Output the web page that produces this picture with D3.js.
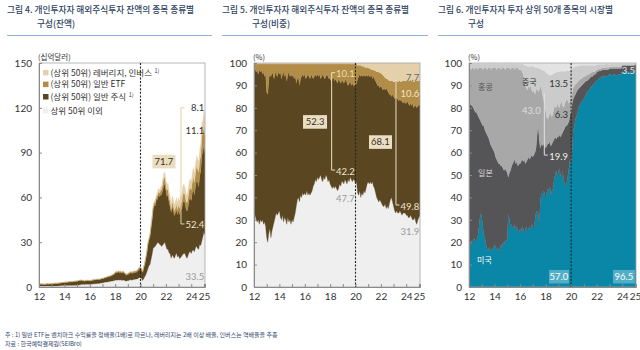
<!DOCTYPE html>
<html>
<head>
<meta charset="utf-8">
<script src="https://cdn.jsdelivr.net/npm/d3@7"></script>
<style>
  body { margin: 0; background: #fff; }
  svg { display: block; font-family: Lato, "Noto Sans CJK KR", sans-serif; }
  .kr { font-family: "Noto Sans CJK KR", "Noto Sans", sans-serif; }
</style>
</head>
<body>
<svg id="chart" width="640" height="350"></svg>
<script>
// monthly observations, Jan 2012 .. Feb 2025
const startYear = 2012;

// Fig 4: balance, USD bn
const others1 = [
  0.7, 0.6, 0.6, 0.6, 0.6, 0.5, 0.6, 0.6, 0.7, 0.6, 0.6, 0.6,
  0.5, 0.5, 0.6, 0.7, 0.6, 0.6, 0.7, 0.8, 0.9, 1.0, 1.0, 1.0,
  1.1, 1.0, 1.0, 1.1, 1.0, 1.1, 1.1, 1.0, 1.1, 1.1, 1.2, 1.1,
  1.2, 1.2, 1.4, 1.5, 1.7, 1.8, 1.8, 1.6, 1.8, 1.8, 1.9, 1.8,
  1.8, 1.8, 2.0, 2.0, 2.1, 2.1, 2.2, 2.3, 2.4, 2.4, 2.6, 2.7,
  2.9, 2.9, 3.1, 3.3, 3.3, 3.3, 3.6, 3.6, 3.9, 4.0, 4.0, 4.3,
  4.6, 4.7, 4.5, 4.9, 4.6, 4.8, 4.5, 4.5, 4.7, 4.4, 4.1, 4.0,
  4.3, 4.4, 4.8, 4.9, 4.6, 5.0, 5.1, 5.2, 5.3, 5.4, 5.9, 6.4,
  6.0, 5.9, 4.4, 5.5, 6.9, 8.0, 10.1, 12.3, 14.2, 15.1, 18.5, 22.0,
  25.9, 26.7, 27.3, 28.5, 29.6, 29.7, 28.6, 28.1, 27.2, 28.1, 28.9, 30.0,
  27.4, 25.2, 25.2, 23.0, 22.2, 19.3, 21.6, 20.3, 19.2, 21.1, 22.8, 20.1,
  20.9, 19.0, 19.8, 20.7, 21.8, 22.4, 22.4, 20.5, 19.2, 21.1, 23.1, 23.8,
  22.4, 24.3, 24.8, 23.6, 26.2, 27.3, 25.8, 25.2, 28.5, 27.8, 30.8, 33.6,
  36.6, 35.1
];
const stock1 = [
  1.1, 1.3, 1.4, 1.35, 1.25, 1.3, 1.3, 1.4, 1.4, 1.4, 1.4, 1.55,
  1.5, 1.6, 1.7, 1.7, 1.85, 1.8, 1.75, 1.7, 1.8, 1.8, 1.85, 1.95,
  1.95, 2.1, 2.1, 2.15, 2.35, 2.25, 2.4, 2.3, 2.35, 2.55, 2.5, 2.7,
  2.6, 2.85, 2.75, 2.85, 2.6, 2.45, 2.4, 2.2, 2.25, 2.45, 2.45, 2.4,
  2.35, 2.35, 2.4, 2.6, 2.55, 2.6, 2.75, 2.7, 2.6, 2.55, 2.6, 2.7,
  2.7, 2.8, 2.9, 2.8, 3.15, 3.35, 3.3, 3.4, 3.45, 3.75, 4.05, 4.05,
  4.7, 4.95, 5.05, 5.3, 5.0, 5.1, 4.9, 5.0, 5.2, 4.35, 4.25, 3.85,
  4.15, 4.3, 4.4, 4.85, 4.5, 4.35, 4.75, 4.55, 4.6, 5.05, 5.15, 5.7,
  5.7, 5.5, 5.35, 7.15, 8.3, 10.8, 12.7, 15.9, 17.2, 18.7, 21.4, 23.0,
  26.4, 27.8, 27.3, 30.4, 29.0, 32.3, 31.9, 33.5, 34.7, 36.7, 39.5, 38.5,
  37.4, 35.4, 36.4, 33.9, 31.6, 30.7, 32.2, 31.2, 28.5, 28.4, 28.7, 28.4,
  30.4, 29.5, 32.2, 31.5, 34.7, 35.0, 34.0, 32.0, 31.6, 32.4, 35.5, 35.8,
  35.5, 38.8, 40.8, 38.0, 41.0, 44.0, 44.7, 42.0, 46.0, 49.9, 57.2, 57.1,
  59.0, 54.8
];
const etf1 = [
  0.05, 0.03, 0.07, 0.05, 0.09, 0.05, 0.07, 0.05, 0.1, 0.07, 0.12, 0.1,
  0.29, 0.32, 0.16, 0.11, 0.14, 0.09, 0.12, 0.18, 0.1, 0.13, 0.17, 0.11,
  0.14, 0.11, 0.21, 0.15, 0.12, 0.2, 0.17, 0.27, 0.17, 0.13, 0.21, 0.18,
  0.23, 0.19, 0.29, 0.21, 0.4, 0.29, 0.24, 0.4, 0.28, 0.25, 0.21, 0.25,
  0.2, 0.29, 0.26, 0.22, 0.27, 0.33, 0.23, 0.29, 0.35, 0.29, 0.25, 0.31,
  0.27, 0.34, 0.28, 0.42, 0.37, 0.32, 0.4, 0.49, 0.43, 0.37, 0.47, 0.59,
  0.65, 0.79, 0.67, 0.59, 0.78, 0.69, 0.77, 0.88, 0.69, 0.71, 0.78, 0.65,
  0.69, 0.82, 0.75, 0.68, 0.85, 0.99, 0.92, 0.8, 1.05, 0.98, 1.17, 1.3,
  1.2, 1.1, 0.6, 0.7, 0.6, 1.0, 0.8, 1.35, 1.15, 1.45, 1.25, 1.9,
  1.65, 2.0, 2.0, 1.25, 2.5, 2.0, 2.3, 3.0, 3.4, 4.3, 4.6, 5.0,
  4.0, 4.1, 4.55, 3.2, 3.3, 2.2, 3.0, 3.2, 3.1, 3.25, 4.0, 3.2,
  3.8, 4.2, 4.2, 4.9, 4.95, 6.1, 5.3, 5.3, 5.4, 6.4, 6.3, 7.2,
  7.0, 7.2, 8.0, 8.4, 8.6, 9.7, 8.6, 9.7, 10.1, 10.6, 13.2, 12.3,
  13.0, 11.7
];
const lev1 = [
  0.01, 0.01, 0.01, 0.01, 0.01, 0.01, 0.01, 0.01, 0.01, 0.01, 0.01, 0.01,
  0.01, 0.01, 0.01, 0.01, 0.01, 0.01, 0.01, 0.01, 0.01, 0.01, 0.01, 0.01,
  0.02, 0.02, 0.02, 0.02, 0.02, 0.02, 0.02, 0.02, 0.02, 0.02, 0.02, 0.02,
  0.02, 0.02, 0.02, 0.02, 0.02, 0.02, 0.02, 0.02, 0.02, 0.02, 0.02, 0.02,
  0.03, 0.03, 0.03, 0.03, 0.03, 0.03, 0.03, 0.03, 0.03, 0.03, 0.03, 0.03,
  0.03, 0.03, 0.03, 0.03, 0.03, 0.03, 0.03, 0.03, 0.03, 0.03, 0.03, 0.03,
  0.05, 0.05, 0.05, 0.05, 0.05, 0.05, 0.05, 0.05, 0.05, 0.05, 0.05, 0.05,
  0.06, 0.06, 0.06, 0.06, 0.06, 0.06, 0.06, 0.06, 0.06, 0.06, 0.06, 0.06,
  0.07, 0.06, 0.1, 0.14, 0.16, 0.2, 0.36, 0.45, 0.5, 0.72, 0.84, 0.96,
  1.1, 1.45, 1.45, 1.86, 1.9, 2.0, 2.3, 2.35, 2.7, 2.9, 3.0, 3.5,
  3.2, 3.4, 3.85, 3.85, 3.9, 3.85, 4.2, 4.35, 4.15, 4.3, 4.55, 4.25,
  4.9, 4.75, 4.8, 4.9, 5.6, 5.45, 5.3, 5.3, 4.8, 5.1, 5.6, 5.75,
  5.6, 5.7, 6.4, 6.1, 6.15, 7.0, 6.9, 7.1, 7.35, 7.7, 8.8, 9.0,
  9.4, 8.5
];

// Fig 5: share, %
const others2 = [
  38, 32, 30, 29, 30, 28, 30, 29, 30, 28, 29, 27,
  22, 20, 24, 26, 22, 25, 27, 29, 31, 33, 32, 33,
  34, 31, 30, 32, 29, 31, 30, 28, 31, 29, 30, 28,
  30, 29, 31, 33, 36, 39, 40, 38, 41, 40, 42, 41,
  42, 41, 43, 41, 42, 41, 42, 43, 45, 46, 48, 47,
  49, 48, 49, 50, 48, 47, 49, 48, 50, 49, 47, 48,
  46, 45, 44, 45, 44, 45, 44, 43, 44, 46, 45, 47,
  47, 46, 48, 47, 46, 48, 47, 49, 48, 47, 48, 47.7,
  46, 47, 42, 41, 43, 40, 42, 41, 43, 42, 44, 46,
  47, 46, 47, 46, 47, 45, 44, 42, 40, 39, 38, 39,
  38, 37, 36, 36, 37, 35, 36, 35, 37, 39, 40, 38,
  36, 34, 33, 34, 33, 33, 34, 33, 32, 33, 33, 33,
  32, 32, 31, 31, 32, 31, 30, 30, 31, 29, 28, 30,
  31, 31.9
];
const stock2 = [
  59, 66, 66, 68, 65, 69, 66, 68, 65, 68, 65, 68,
  65, 66, 69, 69, 72, 71, 68, 64, 65, 62, 62, 63,
  61, 65, 63, 63, 67, 63, 65, 64, 64, 67, 64, 67,
  64, 66, 62, 62, 55, 54, 54, 52, 52, 54, 53, 53,
  53, 52, 51, 54, 52, 52, 53, 51, 48, 48, 47, 47,
  46, 46, 46, 43, 46, 48, 45, 45, 44, 46, 47, 45,
  47, 47, 49, 49, 48, 48, 48, 48, 49, 46, 46, 45,
  45, 45, 44, 46, 45, 42, 44, 43, 42, 44, 42, 42.2,
  44, 44, 51, 53, 52, 54, 53, 53, 52, 52, 51, 48,
  48, 48, 47, 49, 46, 49, 49, 50, 51, 51, 52, 50,
  52, 52, 52, 53, 51, 54, 52, 52, 49, 47, 45, 48,
  49, 50, 52, 50, 51, 50, 50, 50, 51, 49, 50, 49,
  50, 51, 51, 50, 50, 50, 52, 50, 50, 52, 52, 51,
  50, 49.8
];
const etf2 = [
  2.5, 1.5, 3.5, 2.5, 4.5, 2.5, 3.5, 2.5, 4.5, 3.5, 5.5, 4.5,
  12.5, 13.5, 6.5, 4.5, 5.5, 3.5, 4.5, 6.5, 3.5, 4.5, 5.5, 3.5,
  4.5, 3.5, 6.5, 4.5, 3.5, 5.5, 4.5, 7.5, 4.5, 3.5, 5.5, 4.5,
  5.5, 4.5, 6.5, 4.5, 8.5, 6.5, 5.5, 9.5, 6.5, 5.5, 4.5, 5.5,
  4.5, 6.5, 5.5, 4.5, 5.5, 6.5, 4.5, 5.5, 6.5, 5.5, 4.5, 5.5,
  4.5, 5.5, 4.5, 6.5, 5.5, 4.5, 5.5, 6.5, 5.5, 4.5, 5.5, 6.5,
  6.5, 7.5, 6.5, 5.5, 7.5, 6.5, 7.5, 8.5, 6.5, 7.5, 8.5, 7.5,
  7.5, 8.5, 7.5, 6.5, 8.5, 9.5, 8.5, 7.5, 9.5, 8.5, 9.5, 9.6,
  9.5, 8.5, 6, 5, 4, 5, 3.5, 4.5, 3.5, 4, 3, 4,
  3, 3.5, 3.5, 2, 4, 3, 3.5, 4.5, 5, 6, 6, 6.5,
  5.5, 6, 6.5, 5, 5.5, 4, 5, 5.5, 6, 6, 7, 6,
  6.5, 7.5, 7, 8, 7.5, 9, 8, 8.5, 9, 10, 9, 10,
  10, 9.5, 10, 11, 10.5, 11, 10, 11.5, 11, 11, 12, 11,
  11, 10.6
];
const lev2 = [
  0.5, 0.5, 0.5, 0.5, 0.5, 0.5, 0.5, 0.5, 0.5, 0.5, 0.5, 0.5,
  0.5, 0.5, 0.5, 0.5, 0.5, 0.5, 0.5, 0.5, 0.5, 0.5, 0.5, 0.5,
  0.5, 0.5, 0.5, 0.5, 0.5, 0.5, 0.5, 0.5, 0.5, 0.5, 0.5, 0.5,
  0.5, 0.5, 0.5, 0.5, 0.5, 0.5, 0.5, 0.5, 0.5, 0.5, 0.5, 0.5,
  0.5, 0.5, 0.5, 0.5, 0.5, 0.5, 0.5, 0.5, 0.5, 0.5, 0.5, 0.5,
  0.5, 0.5, 0.5, 0.5, 0.5, 0.5, 0.5, 0.5, 0.5, 0.5, 0.5, 0.5,
  0.5, 0.5, 0.5, 0.5, 0.5, 0.5, 0.5, 0.5, 0.5, 0.5, 0.5, 0.5,
  0.5, 0.5, 0.5, 0.5, 0.5, 0.5, 0.5, 0.5, 0.5, 0.5, 0.5, 0.5,
  0.5, 0.5, 1, 1, 1, 1, 1.5, 1.5, 1.5, 2, 2, 2,
  2, 2.5, 2.5, 3, 3, 3, 3.5, 3.5, 4, 4, 4, 4.5,
  4.5, 5, 5.5, 6, 6.5, 7, 7, 7.5, 8, 8, 8, 8,
  8.5, 8.5, 8, 8, 8.5, 8, 8, 8.5, 8, 8, 8, 8,
  8, 7.5, 8, 8, 7.5, 8, 8, 8.5, 8, 8, 8, 8,
  8, 7.7
];

// Fig 6: top-50 holdings by market, %
const us3 = [
  30, 17, 21, 20, 21, 22, 20, 21, 22, 25, 30, 33,
  31, 27, 23, 22, 19, 17, 16, 18, 17, 16, 17, 18,
  19, 18, 17, 18, 16, 17, 19, 18, 20, 19, 21, 20,
  22, 33, 30, 27, 28, 26, 27, 28, 26, 27, 25, 24,
  26, 25, 27, 26, 24, 26, 27, 25, 26, 27, 26, 28,
  27, 26, 30, 33, 34, 33, 28, 38, 42, 41, 43, 42,
  40, 42, 44, 43, 45, 41, 43, 44, 48, 50, 52, 49,
  51, 53, 50, 49, 52, 48, 46, 45, 47, 50, 53, 57,
  55, 61, 70, 72, 75, 76, 78, 80, 81, 82, 83, 83.5,
  84, 85, 86, 87, 87.5, 88, 89, 89.5, 90, 90.5, 91, 91.5,
  92, 92, 92.5, 93, 93, 93.5, 93.5, 94, 94, 94, 94, 94.5,
  94.5, 94.5, 94.5, 94.5, 95, 95, 95, 95, 95, 95.5, 95.5, 95.5,
  95.5, 95.5, 95.5, 96, 96, 96, 96, 96, 96.5, 96.5, 96.5, 96.5,
  96.5, 96.5
];
const jp3 = [
  53.5, 65, 60, 61, 59, 57, 58, 57, 55, 51, 45, 41,
  42, 45, 49, 48, 50, 51, 51, 48, 47, 47, 45, 43,
  41, 40, 40, 38, 39, 38, 35, 36, 33, 33, 32, 32,
  29, 16, 21, 25, 26, 29, 29, 29, 29, 29, 29, 31,
  29, 31, 30, 30, 33, 29, 29, 32, 32, 30, 32, 31,
  31, 33, 30, 29, 34, 40, 38, 24, 22, 22, 21, 21,
  22, 21, 20, 21, 20, 22, 21, 21, 18, 17, 14, 18,
  16, 15, 17, 19, 17, 22, 25, 27, 25, 23, 21, 19.9,
  23, 21, 14, 13, 11, 11, 10, 8.5, 8, 7.5, 7, 7,
  7, 6.5, 6, 5, 5, 5, 4.5, 4.5, 4, 4, 4, 3.5,
  3.5, 3.5, 3.5, 3, 3, 3, 3, 2.5, 3, 3, 3, 2.5,
  2.5, 2.5, 3, 3, 2.5, 2.5, 3, 3, 3, 2.5, 2.5, 2.5,
  2.5, 3, 3, 2.5, 2.5, 2.5, 3, 3, 2.5, 2.7, 2.7, 2.8,
  2.6, 2.6
];
const hk3 = [
  14.5, 16, 16, 17, 18, 18, 20, 20, 20, 22, 23, 24,
  25, 25, 26, 28, 29, 29, 31, 32, 34, 34, 36, 37,
  38, 40, 40, 42, 43, 43, 43, 44, 45, 46, 44, 46,
  47, 49, 47, 45, 44, 43, 42, 40, 43, 42, 44, 42,
  42, 41, 39, 39, 36, 35, 33, 31, 32, 32, 32, 29,
  29, 29, 26, 26, 21, 14, 22, 28, 25, 23, 20, 19,
  17, 13, 11, 12, 13, 14, 12, 13, 14, 14, 14, 15,
  14, 12, 15, 15, 12, 10, 11, 11, 12, 10, 8, 6.3,
  6, 5, 5, 5, 4.5, 4, 3.5, 3.5, 3.5, 3.5, 3, 3,
  3, 2.5, 2.5, 2.5, 2.5, 2, 2, 1.5, 2, 1.5, 1, 1.5,
  1, 1, 1, 1, 1, 1, 1, 1, 1, 1, 1, 1,
  0.8, 0.8, 0.8, 0.8, 0.8, 0.8, 0.8, 0.8, 0.8, 0.8, 0.8, 0.8,
  0.4, 0.4, 0.4, 0.4, 0.4, 0.4, 0.4, 0.4, 0.4, 0.4, 0.4, 0.4,
  0.3, 0.3
];
const cn3 = [
  1.5, 1.5, 2.5, 1.5, 1.5, 2.5, 1.5, 1.5, 2.5, 1.5, 1.5, 1.5,
  1.5, 2.5, 1.5, 1.5, 1.5, 2.5, 1.5, 1.5, 1.5, 2.5, 1.5, 1.5,
  1.5, 1.5, 2.5, 1.5, 1.5, 1.5, 2.5, 1.5, 1.5, 1.5, 2.5, 1.5,
  1.5, 1.5, 1.5, 2.5, 1.5, 1.5, 1.5, 2.5, 1.5, 1.5, 1.5, 2.5,
  2.5, 2.5, 3.5, 4.5, 6, 9, 10, 10.5, 8.5, 9.5, 8.5, 10.5,
  11.5, 10.5, 12, 10, 9, 11, 9.5, 7.5, 8, 11, 12.5, 14.5,
  17, 19.5, 20, 19, 16.5, 17.5, 19, 17, 15.5, 14.5, 16, 14,
  15, 16, 14.5, 13, 15.5, 16.5, 14, 13.5, 12.5, 13.5, 14.5, 13.5,
  13, 10.5, 9, 8, 8, 7.5, 7, 6.5, 6.5, 6, 6, 5.5,
  5, 5, 4.5, 4.5, 4, 4, 3.5, 3.5, 3, 3, 3, 2.5,
  2.5, 2.5, 2, 2, 2, 1.5, 1.5, 1.5, 1.5, 1.5, 1.5, 1.5,
  1.2, 1.2, 1.2, 1.2, 1.2, 1.2, 1.2, 1.2, 1.2, 1.2, 1.2, 1.2,
  0.5, 0.5, 0.5, 0.5, 0.5, 0.5, 0.5, 0.5, 0.5, 0.5, 0.5, 0.5,
  0.4, 0.4
];
const rest3 = [
  0.5, 0.5, 0.5, 0.5, 0.5, 0.5, 0.5, 0.5, 0.5, 0.5, 0.5, 0.5,
  0.5, 0.5, 0.5, 0.5, 0.5, 0.5, 0.5, 0.5, 0.5, 0.5, 0.5, 0.5,
  0.5, 0.5, 0.5, 0.5, 0.5, 0.5, 0.5, 0.5, 0.5, 0.5, 0.5, 0.5,
  0.5, 0.5, 0.5, 0.5, 0.5, 0.5, 0.5, 0.5, 0.5, 0.5, 0.5, 0.5,
  0.5, 0.5, 0.5, 0.5, 1, 1, 1, 1.5, 1.5, 1.5, 1.5, 1.5,
  1.5, 1.5, 2, 2, 2, 2, 2.5, 2.5, 3, 3, 3.5, 3.5,
  4, 4.5, 5, 5, 5.5, 5.5, 5, 5, 4.5, 4.5, 4, 4,
  4, 4, 3.5, 4, 3.5, 3.5, 4, 3.5, 3.5, 3.5, 3.5, 3.3,
  3, 2.5, 2, 2, 1.5, 1.5, 1.5, 1.5, 1, 1, 1, 1,
  1, 1, 1, 1, 1, 1, 1, 1, 1, 1, 1, 1,
  0.5, 0.5, 0.5, 0.5, 0.5, 0.5, 0.5, 0.5, 0.5, 0.5, 0.5, 0.5,
  0.5, 0.5, 0.5, 0.5, 0.5, 0.5, 0.5, 0.5, 0.5, 0.5, 0.5, 0.5,
  0.3, 0.3, 0.3, 0.3, 0.3, 0.3, 0.3, 0.3, 0.3, 0.3, 0.3, 0.3,
  0.2, 0.2
];

const yearTicks = d3.range(2012, 2026);
const yearLabels = { 2012: "12", 2014: "14", 2016: "16", 2018: "18", 2020: "20", 2022: "22", 2024: "24", 2025: "25" };
const yTicksBal = [0, 30, 60, 90, 120, 150];
const yTicksPct = [0, 10, 20, 30, 40, 50, 60, 70, 80, 90, 100];

const legendItems = ["(상위 50위) 레버리지, 인버스", "(상위 50위) 일반 ETF", "(상위 50위) 일반 주식", "상위 50위 이외"];
const legendNote = [true, false, true, false];

const brown = { others: "#efefef", stock: "#5b4622", etf: "#b28d47", lev: "#e4d1ab" };
const marketColors = ["#0a86a6", "#555557", "#a8a8a8", "#cbcbcb", "#e3e3e3"];

const dates = others1.map((_, i) => startYear + i / 12);
const plotTop = 63, plotBottom = 287;
const svg = d3.select("#chart");

const panels = [
  {
    x0: 39, x1: 205, titleX: 7, rule: [7, 212],
    title: ["그림 4. 개인투자자 해외주식투자 잔액의 종목 종류별", "구성(잔액)"],
    unit: "(십억달러)", yMax: 150, yTicks: yTicksBal, expand: false,
    series: [others1, stock1, etf1, lev1],
    colors: [brown.others, brown.stock, brown.etf, brown.lev],
    brackets: [{ x: 2023.19, y0: 120, y1: 42.2, top: true, color: "#e2cfa6" }],
    boxes: [{ t: "71.7", x: 2021.85, y: 84, w: 23, fill: "#e9dcbf", color: "#3b3020" }],
    labels: [
      { t: "8.1", x: 2025.03, y: 120.2, a: "end", color: "#333" },
      { t: "11.1", x: 2025.03, y: 105, a: "end", color: "#3a3020" },
      { t: "52.4", x: 2025.03, y: 41.5, a: "end", color: "#efe4cc" },
      { t: "33.5", x: 2025.03, y: 6.7, a: "end", color: "#9a9a9a" }
    ]
  },
  {
    x0: 254, x1: 420, titleX: 222, rule: [222, 428],
    title: ["그림 5. 개인투자자 해외주식투자 잔액의 종목 종류별", "구성(비중)"],
    unit: "(%)", yMax: 100, yTicks: yTicksPct, expand: true,
    series: [others2, stock2, etf2, lev2],
    colors: [brown.others, brown.stock, brown.etf, brown.lev],
    brackets: [
      { x: 2018.12, y0: 95.7, y1: 52.2, top: true, color: "#eadfc5" },
      { x: 2023.19, y0: 92.4, y1: 36.6, top: false, color: "#eadfc5" }
    ],
    boxes: [
      { t: "52.3", x: 2016.81, y: 73.7, w: 24, fill: "#eadfc5", color: "#3b3020" },
      { t: "68.1", x: 2021.97, y: 64.7, w: 23, fill: "#eadfc5", color: "#3b3020" }
    ],
    labels: [
      { t: "10.1", x: 2018.46, y: 95.4, a: "start", color: "#eadbb8" },
      { t: "42.2", x: 2018.46, y: 51.5, a: "start", color: "#efe4cc" },
      { t: "47.7", x: 2018.46, y: 39.6, a: "start", color: "#9a9a9a" },
      { t: "7.7", x: 2025.03, y: 93.4, a: "end", color: "#666" },
      { t: "10.6", x: 2025.03, y: 86.5, a: "end", color: "#efe4cc" },
      { t: "49.8", x: 2025.03, y: 35.8, a: "end", color: "#efe4cc" },
      { t: "31.9", x: 2025.03, y: 24.7, a: "end", color: "#9a9a9a" }
    ]
  },
  {
    x0: 469, x1: 636, titleX: 438, rule: [438, 640],
    title: ["그림 6. 개인투자자 투자 상위 50개 종목의 시장별", "구성"],
    unit: "(%)", yMax: 100, yTicks: yTicksPct, expand: true,
    series: [us3, jp3, hk3, cn3, rest3],
    colors: marketColors,
    brackets: [{ x: 2017.9, y0: 86.5, y1: 58.9, top: false, color: "#e2e2e2" }],
    boxes: [
      { t: "57.0", x: 2019.05, y: 4.6, w: 20, fill: "#52adc6", color: "#fff" },
      { t: "96.5", x: 2024.14, y: 4.6, w: 22, fill: "#52adc6", color: "#fff" }
    ],
    labels: [
      { t: "홍콩", x: 2012.71, y: 89.4, a: "start", color: "#555", kr: true },
      { t: "중국", x: 2016.15, y: 91.6, a: "start", color: "#333", kr: true },
      { t: "일본", x: 2012.71, y: 50.9, a: "start", color: "#ddd", kr: true },
      { t: "미국", x: 2012.63, y: 12.1, a: "start", color: "#fff", kr: true },
      { t: "43.0", x: 2016.15, y: 78.7, a: "start", color: "#dedede" },
      { t: "13.5", x: 2019.76, y: 90.9, a: "end", color: "#333" },
      { t: "6.3", x: 2019.76, y: 76.8, a: "end", color: "#333" },
      { t: "19.9", x: 2019.76, y: 58.2, a: "end", color: "#eee" },
      { t: "3.5", x: 2025.0, y: 96.6, a: "end", color: "#e8e8e8" }
    ]
  }
];

function drawPanel(p, idx) {
  const x = d3.scaleLinear().domain([startYear, d3.max(dates)]).range([p.x0, p.x1]);
  const y = d3.scaleLinear().domain([0, p.yMax]).range([plotBottom, plotTop]);
  const g = svg.append("g").attr("class", "panel");

  // title block
  const title = g.append("text").attr("class", "kr")
    .attr("font-size", 8.7).attr("font-weight", 500).attr("fill", "#2e3f61");
  title.append("tspan").attr("x", p.titleX).attr("y", 12.5).text(p.title[0]);
  title.append("tspan").attr("x", p.titleX + 30).attr("y", 26.5).text(p.title[1]);
  g.append("line")
    .attr("x1", p.rule[0]).attr("x2", p.rule[1])
    .attr("y1", 35.5).attr("y2", 35.5)
    .attr("stroke", "#93b3d9").attr("stroke-width", 1);

  g.append("text").attr("class", "kr")
    .attr("x", p.x0 - 1).attr("y", 59.5)
    .attr("font-size", 7.5).attr("fill", "#333")
    .text(p.unit);

  // stacked areas
  const keys = p.series.map((_, j) => "s" + j);
  const rows = dates.map((d, i) => {
    const r = {};
    keys.forEach((k, j) => { r[k] = p.series[j][i]; });
    return r;
  });
  const stack = d3.stack().keys(keys);
  if (p.expand) stack.offset(d3.stackOffsetExpand);
  const layers = stack(rows);
  const k = p.expand ? 100 : 1;

  const clipId = "clip" + idx;
  g.append("clipPath").attr("id", clipId)
    .append("rect")
    .attr("x", p.x0).attr("y", plotTop)
    .attr("width", p.x1 - p.x0).attr("height", plotBottom - plotTop);

  const area = d3.area()
    .x((d, i) => x(dates[i]))
    .y0((d) => y(Math.min(d[0] * k, p.yMax)))
    .y1((d) => y(Math.min(d[1] * k, p.yMax)));

  g.append("g").attr("clip-path", `url(#${clipId})`)
    .selectAll("path")
    .data(layers)
    .join("path")
    .attr("d", area)
    .attr("fill", (d, i) => p.colors[i])
    .attr("stroke", (d, i) => p.colors[i])
    .attr("stroke-width", 0.3);

  // frame
  g.append("rect")
    .attr("x", p.x0).attr("y", plotTop)
    .attr("width", p.x1 - p.x0).attr("height", plotBottom - plotTop)
    .attr("fill", "none").attr("stroke", "#a5a5a5").attr("stroke-width", 0.8);

  // axes
  const yAxis = g.append("g")
    .attr("transform", `translate(${p.x0},0)`)
    .call(d3.axisLeft(y).tickValues(p.yTicks).tickSize(-3).tickPadding(7));
  const xAxis = g.append("g")
    .attr("transform", `translate(0,${plotBottom})`)
    .call(d3.axisBottom(x).tickValues(yearTicks).tickSize(-3).tickPadding(6)
      .tickFormat((d) => yearLabels[d] || ""));
  [yAxis, xAxis].forEach((a) => {
    a.attr("font-family", "Lato, sans-serif").attr("font-size", 10);
    a.select(".domain").attr("stroke", "#8a8a8a");
    a.selectAll(".tick line").attr("stroke", "#8a8a8a");
    a.selectAll(".tick text").attr("fill", "#333");
  });

  // 2020 marker
  g.append("line")
    .attr("x1", x(2020)).attr("x2", x(2020))
    .attr("y1", plotTop).attr("y2", plotBottom)
    .attr("stroke", "#222").attr("stroke-width", 1.1)
    .attr("stroke-dasharray", "2,1.6");

  // brackets
  p.brackets.forEach((b) => {
    const bx = x(b.x);
    const path = d3.path();
    if (b.top) { path.moveTo(bx + 3.5, y(b.y0)); path.lineTo(bx, y(b.y0)); }
    else path.moveTo(bx, y(b.y0));
    path.lineTo(bx, y(b.y1));
    path.lineTo(bx + 3.5, y(b.y1));
    g.append("path").attr("d", path.toString())
      .attr("fill", "none").attr("stroke", b.color).attr("stroke-width", 1);
  });

  // boxed labels
  p.boxes.forEach((b) => {
    const cx = x(b.x), cy = y(b.y);
    g.append("rect")
      .attr("x", cx - b.w / 2).attr("y", cy - 6.8)
      .attr("width", b.w).attr("height", 13.6)
      .attr("fill", b.fill);
    g.append("text")
      .attr("x", cx).attr("y", cy).attr("dy", "0.36em")
      .attr("text-anchor", "middle")
      .attr("font-size", 9.5).attr("fill", b.color)
      .text(b.t);
  });

  // plain labels
  p.labels.forEach((l) => {
    g.append("text")
      .attr("class", l.kr ? "kr" : null)
      .attr("x", x(l.x)).attr("y", y(l.y)).attr("dy", "0.36em")
      .attr("text-anchor", l.a)
      .attr("font-size", l.kr ? 8 : 9.5)
      .attr("fill", l.color)
      .text(l.t);
  });
}

panels.forEach(drawPanel);

// legend of figure 4
const legY = [72.7, 84.4, 96.8, 110.5];
const legColors = [brown.lev, brown.etf, brown.stock, brown.others];
const leg = svg.append("g").attr("class", "legend kr");
legendItems.forEach((name, i) => {
  leg.append("rect")
    .attr("x", 43).attr("y", legY[i] - 2.8)
    .attr("width", 5.5).attr("height", 5.5)
    .attr("fill", legColors[i]);
  const t = leg.append("text")
    .attr("x", 50.5).attr("y", legY[i]).attr("dy", "0.36em")
    .attr("font-size", 8.5).attr("fill", "#333")
    .text(name);
  if (legendNote[i]) {
    t.append("tspan").attr("dx", 2.5).attr("dy", -3.2)
      .attr("font-size", 5.5).text("1)");
  }
});

// notes
const notes = svg.append("g").attr("class", "kr").attr("font-size", 6).attr("fill", "#33466e");
notes.append("text").attr("x", 5).attr("y", 337)
  .text("주 : 1) 일반 ETF는 벤치마크 수익률을 정배율(1배)로 따르나, 레버리지는 2배 이상 배율, 인버스는 역배율을 추종");
notes.append("text").attr("x", 5).attr("y", 346)
  .text("자료 : 한국예탁결제원(SEIBro)");
</script>
</body>
</html>
